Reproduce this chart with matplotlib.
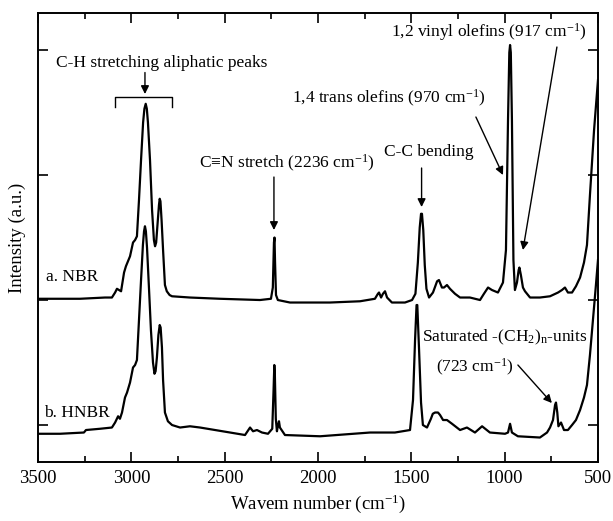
import matplotlib
matplotlib.use('Agg')
import matplotlib.pyplot as plt
from matplotlib.ticker import MultipleLocator

plt.rcParams['font.family'] = ['Liberation Serif', 'DejaVu Serif']
plt.rcParams['mathtext.fontset'] = 'custom'
plt.rcParams['mathtext.rm'] = 'Liberation Serif'
plt.rcParams['mathtext.default'] = 'regular'

# spectra: (wavenumber cm-1, intensity a.u.)
nbr = [(3500, 1.01), (3275, 1.01), (3141, 1.02), (3104, 1.02), (3087, 1.06),
       (3077, 1.09), (3066, 1.08), (3055, 1.07), (3039, 1.22), (3029, 1.27),
       (3007, 1.35), (2991, 1.46), (2980, 1.48), (2970, 1.51), (2959, 1.80),
       (2948, 2.12), (2937, 2.42), (2930, 2.53), (2923, 2.57), (2917, 2.53),
       (2911, 2.42), (2900, 2.12), (2889, 1.72), (2879, 1.48), (2873, 1.43),
       (2867, 1.46), (2860, 1.60), (2852, 1.76), (2848, 1.81), (2844, 1.79),
       (2838, 1.64), (2830, 1.40), (2820, 1.12), (2810, 1.07), (2795, 1.04),
       (2782, 1.03), (2686, 1.02), (2525, 1.01), (2311, 1.00), (2252, 1.01),
       (2242, 1.10), (2236, 1.46), (2233, 1.50), (2230, 1.30), (2225, 1.04),
       (2215, 1.00), (2150, 0.98), (1936, 0.98), (1775, 0.99), (1695, 1.01),
       (1679, 1.05), (1673, 1.06), (1662, 1.02), (1652, 1.05), (1641, 1.07),
       (1630, 1.02), (1604, 0.98), (1534, 0.98), (1496, 1.00), (1478, 1.05),
       (1465, 1.30), (1455, 1.58), (1448, 1.69), (1443, 1.69), (1436, 1.56),
       (1428, 1.28), (1419, 1.09), (1405, 1.02), (1384, 1.06), (1362, 1.15),
       (1352, 1.16), (1336, 1.10), (1325, 1.10), (1309, 1.12), (1293, 1.09),
       (1266, 1.05), (1239, 1.02), (1186, 1.02), (1132, 1.00), (1111, 1.05),
       (1089, 1.10), (1068, 1.08), (1036, 1.06), (1009, 1.14), (993, 1.40),
       (982, 2.44), (975, 2.98), (971, 3.04), (967, 2.98), (961, 2.44),
       (953, 1.32), (945, 1.08), (934, 1.14), (925, 1.24), (921, 1.26),
       (913, 1.20), (902, 1.10), (891, 1.07), (864, 1.02), (811, 1.02),
       (757, 1.03), (714, 1.06), (693, 1.08), (677, 1.10), (661, 1.06),
       (639, 1.06), (618, 1.11), (596, 1.18), (575, 1.30), (559, 1.44),
       (543, 1.84), (521, 2.36), (500, 2.76)]

hnbr = [(3500, -0.07), (3382, -0.07), (3254, -0.06), (3243, -0.04), (3168, -0.03),
        (3104, -0.02), (3087, 0.02), (3071, 0.07), (3061, 0.05), (3050, 0.10),
        (3034, 0.22), (3023, 0.26), (3007, 0.34), (2991, 0.46), (2980, 0.48),
        (2970, 0.52), (2959, 0.84), (2948, 1.16), (2938, 1.44), (2932, 1.55),
        (2927, 1.59), (2922, 1.55), (2916, 1.42), (2905, 1.08), (2895, 0.76),
        (2884, 0.50), (2876, 0.41), (2870, 0.43), (2863, 0.54), (2855, 0.72),
        (2848, 0.80), (2843, 0.78), (2836, 0.62), (2830, 0.36), (2820, 0.10),
        (2804, 0.03), (2782, 0.00), (2739, -0.02), (2686, -0.01), (2632, -0.02),
        (2471, -0.06), (2391, -0.08), (2364, -0.02), (2348, -0.05), (2327, -0.04),
        (2300, -0.06), (2268, -0.07), (2245, -0.03), (2238, 0.28), (2234, 0.48),
        (2231, 0.40), (2226, 0.05), (2220, -0.05), (2214, 0.00), (2209, 0.03),
        (2204, -0.02), (2177, -0.08), (1989, -0.09), (1721, -0.06), (1588, -0.06),
        (1507, -0.04), (1491, 0.20), (1480, 0.68), (1472, 0.96), (1468, 0.96),
        (1459, 0.62), (1448, 0.18), (1438, 0.00), (1416, -0.02), (1395, 0.05),
        (1385, 0.09), (1373, 0.10), (1357, 0.10), (1346, 0.08), (1330, 0.04),
        (1309, 0.04), (1282, 0.01), (1239, -0.04), (1202, -0.02), (1159, -0.06),
        (1121, -0.01), (1079, -0.06), (998, -0.07), (982, -0.06), (971, 0.01),
        (961, -0.06), (929, -0.09), (811, -0.10), (773, -0.06), (757, -0.02),
        (741, 0.04), (730, 0.16), (725, 0.18), (718, 0.10), (712, -0.01),
        (698, 0.02), (682, -0.04), (661, -0.04), (639, 0.00), (618, 0.04),
        (596, 0.12), (575, 0.22), (559, 0.32), (543, 0.56), (527, 0.84),
        (511, 1.12), (500, 1.32)]

sample_labels = ['a. NBR', 'b. HNBR']
x_ticks = [3500, 3000, 2500, 2000, 1500, 1000, 500]
ch_range = (3087, 2782)

fig = plt.figure(figsize=(6.13, 5.21), dpi=100)
ax = fig.add_axes([0.062, 0.1132, 0.9135, 0.8618])

for spec in (nbr, hnbr):
    ax.plot([p[0] for p in spec], [p[1] for p in spec], color='black', lw=1.6,
            solid_joinstyle='round')

ax.set_xlim(3500, 500)
ax.set_ylim(-0.296, 3.296)
ax.set_xticks(x_ticks)
ax.xaxis.set_minor_locator(MultipleLocator(250))
ax.set_yticks([0, 1, 2, 3])
ax.set_yticklabels([])
ax.tick_params(which='both', direction='in', top=True, right=True, width=1.2)
ax.tick_params(which='major', length=7, labelsize=13.5, pad=6)
ax.tick_params(which='minor', length=4)
for s in ax.spines.values():
    s.set_linewidth(1.4)

ax.set_xlabel('Wavem number (cm$^{-1}$)', fontsize=13.5, labelpad=4)
ax.set_ylabel('Intensity (a.u.)', fontsize=13.5, labelpad=3)

fs = 12.5
arw = dict(arrowstyle='-|>', color='black', lw=1.0, mutation_scale=12, shrinkA=0, shrinkB=0)

ax.text(3457, 1.184, sample_labels[0], fontsize=fs, va='center')
ax.text(3468, 0.096, sample_labels[1], fontsize=fs, va='center')

ax.text(2836, 2.90, 'C-H stretching aliphatic peaks', fontsize=fs, ha='center', va='center')
ax.annotate('', xy=(2927, 2.648), xytext=(2927, 2.82), arrowprops=arw)
ax.plot([ch_range[0], ch_range[0], ch_range[1], ch_range[1]],
        [2.544, 2.624, 2.624, 2.544], color='black', lw=1.0)

ax.text(2166, 2.096, 'C\u2261N stretch (2236 cm$^{-1}$)', fontsize=fs, ha='center', va='center')
ax.annotate('', xy=(2236, 1.56), xytext=(2236, 1.984), arrowprops=arw)

ax.text(1405, 2.184, 'C-C bending', fontsize=fs, ha='center', va='center')
ax.annotate('', xy=(1445, 1.744), xytext=(1445, 2.056), arrowprops=arw)

ax.text(1620, 2.616, '1,4 trans olefins (970 cm$^{-1}$)', fontsize=fs, ha='center', va='center')
ax.annotate('', xy=(1009, 2.0), xytext=(1154, 2.464), arrowprops=arw)

ax.text(1084, 3.144, '1,2 vinyl olefins (917 cm$^{-1}$)', fontsize=fs, ha='center', va='center')
ax.annotate('', xy=(902, 1.40), xytext=(720, 3.024), arrowprops=arw)

ax.text(998, 0.704, 'Saturated -(CH$_2$)$_n$-units', fontsize=fs, ha='center', va='center')
ax.text(1159, 0.464, '(723 cm$^{-1}$)', fontsize=fs, ha='center', va='center')
ax.annotate('', xy=(747, 0.176), xytext=(929, 0.48), arrowprops=arw)

fig.savefig('out.png', dpi=100)
